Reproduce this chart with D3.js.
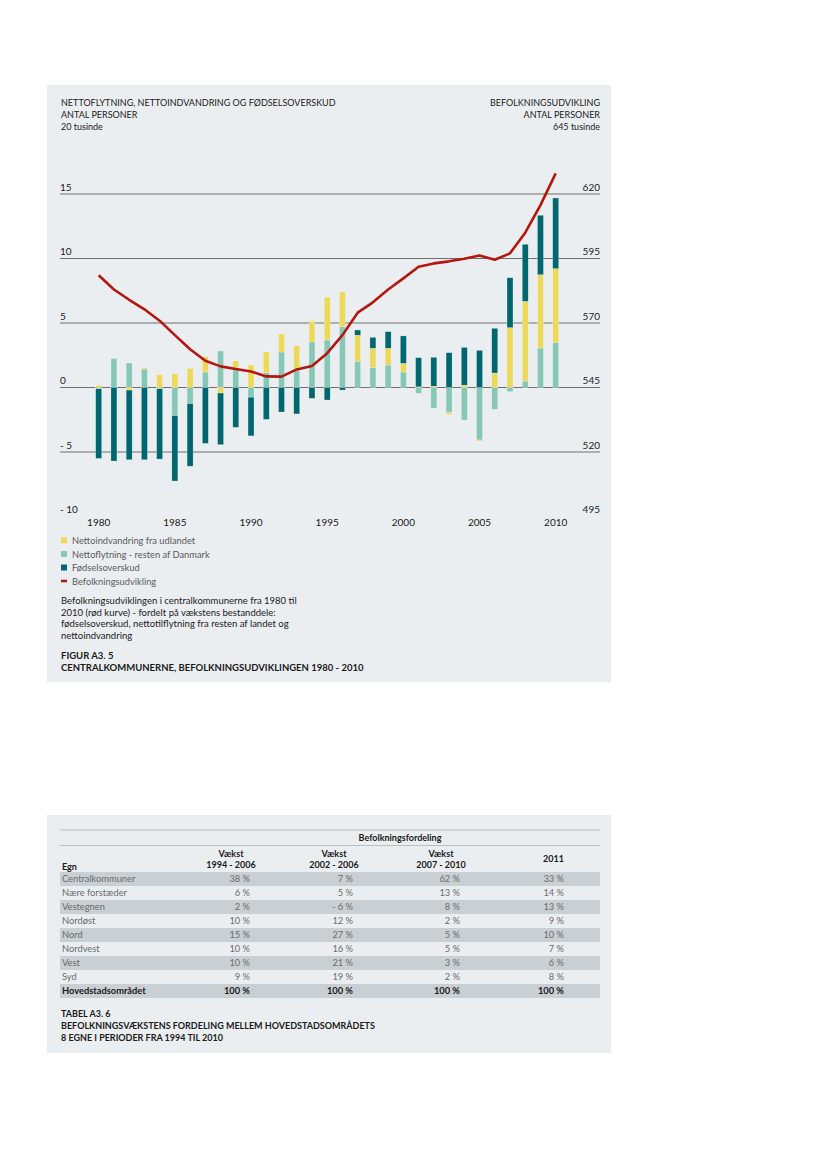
<!DOCTYPE html>
<html>
<head>
<meta charset="utf-8">
<script src="https://cdn.jsdelivr.net/npm/d3@7"></script>
<style>
  body { margin: 0; background: #fff; }
  svg text { font-family: Lato, "Open Sans", sans-serif; }
</style>
</head>
<body>
<div id="chart"></div>
<script>
// data (tusinde personer)
var years = [1980,1981,1982,1983,1984,1985,1986,1987,1988,1989,1990,1991,1992,1993,1994,1995,
             1996,1997,1998,1999,2000,2001,2002,2003,2004,2005,2006,2007,2008,2009,2010];
var nettoflytning = [-0.1,2.25,1.9,1.43,-0.1,-2.18,-1.25,1.2,2.83,1.56,-0.75,1.15,2.75,1.3,3.53,3.68,
                     4.71,2.03,1.53,1.74,1.2,-0.45,-1.6,-1.95,-2.52,-4.07,-1.69,-0.32,0.5,3.06,3.5];
var nettoindvandring = [0.15,0,-0.2,0.1,1.0,1.07,1.48,1.2,-0.43,0.5,1.74,1.6,1.4,1.94,1.62,3.32,
                        2.7,2.02,1.51,1.3,0.67,0.05,0.1,-0.15,0.18,-0.1,1.12,4.64,6.18,5.68,5.71];
var fodselsoverskud = [-5.4,-5.7,-5.4,-5.6,-5.45,-5.07,-4.85,-4.33,-4.0,-3.09,-3.0,-2.47,-1.9,-2.05,-0.84,-0.97,
                       -0.2,0.41,0.85,1.29,2.13,2.26,2.24,2.7,2.93,2.88,3.47,3.87,4.42,4.61,5.48];
var befolkning = [588.5,583,579,575.3,570.9,565.3,559.8,555.4,553.2,552.2,551.2,549.3,549.2,552,553.3,558.3,
                  565.3,574,578,583,587.3,591.8,593.1,593.9,594.9,596.2,594.5,597,605,615.7,628];

var leftTicks = [-10,-5,0,5,10,15];
var leftTickLabels = ["- 10","- 5","0","5","10","15"];
var rightTicks = [495,520,545,570,595,620];
var xTicks = [1980,1985,1990,1995,2000,2005,2010];

var seriesNames = ["Nettoindvandring fra udlandet","Nettoflytning - resten af Danmark","Fødselsoverskud","Befolkningsudvikling"];

// table
var tableRows = ["Centralkommuner","Nære forstæder","Vestegnen","Nordøst","Nord","Nordvest","Vest","Syd","Hovedstadsområdet"];
var vaekst9406 = ["38 %","6 %","2 %","10 %","15 %","10 %","10 %","9 %","100 %"];
var vaekst0206 = ["7 %","5 %","- 6 %","12 %","27 %","16 %","21 %","19 %","100 %"];
var vaekst0710 = ["62 %","13 %","8 %","2 %","5 %","5 %","3 %","2 %","100 %"];
var fordeling2011 = ["33 %","14 %","13 %","9 %","10 %","7 %","6 %","8 %","100 %"];

var width = 827, height = 1169;
var bg = "#ebeef1";
var colYellow = "#ecd85a", colLight = "#86c8b5", colDark = "#00676f", colRed = "#b5170f";

var svg = d3.select("#chart").append("svg")
    .attr("width", width)
    .attr("height", height);

// panels
svg.append("rect").attr("x", 47).attr("y", 85).attr("width", 564).attr("height", 597).attr("fill", bg);
svg.append("rect").attr("x", 47).attr("y", 815).attr("width", 564).attr("height", 238).attr("fill", bg);

var x = d3.scaleLinear().domain([1980, 2010]).range([98.7, 555.7]);
var y = d3.scaleLinear().domain([-10, 20]).range([516.5, 129.5]);
var yR = d3.scaleLinear().domain([495, 645]).range([516.5, 129.5]);
var barW = 6;

// header
var hdrL = ["NETTOFLYTNING, NETTOINDVANDRING OG FØDSELSOVERSKUD", "ANTAL PERSONER", "20 tusinde"];
var hdrR = ["BEFOLKNINGSUDVIKLING", "ANTAL PERSONER", "645 tusinde"];
hdrL.forEach(function(t, i) {
  svg.append("text").attr("x", 61).attr("y", 106 + i * 12).attr("font-size", 9).attr("fill", "#1a1a1a").text(t);
});
hdrR.forEach(function(t, i) {
  svg.append("text").attr("x", 600).attr("y", 106 + i * 12).attr("font-size", 9).attr("fill", "#1a1a1a")
    .attr("text-anchor", "end").text(t);
});

// gridlines
svg.append("g").selectAll("line")
    .data(leftTicks.filter(function(d) { return d > -10; }))
    .enter().append("line")
    .attr("x1", 60).attr("x2", 600)
    .attr("y1", function(d) { return y(d); })
    .attr("y2", function(d) { return y(d); })
    .attr("stroke", "#6f6f6f").attr("stroke-width", 1.2);

svg.append("g").selectAll("text")
    .data(leftTicks)
    .enter().append("text")
    .attr("x", 60).attr("y", function(d) { return y(d) - 3.5; })
    .attr("font-size", 10).attr("fill", "#1a1a1a")
    .text(function(d, i) { return leftTickLabels[i]; });

svg.append("g").selectAll("text")
    .data(rightTicks)
    .enter().append("text")
    .attr("x", 600).attr("y", function(d) { return yR(d) - 3.5; })
    .attr("text-anchor", "end")
    .attr("font-size", 10).attr("fill", "#1a1a1a")
    .text(function(d) { return d; });

svg.append("g").selectAll("text")
    .data(xTicks)
    .enter().append("text")
    .attr("x", function(d) { return x(d); }).attr("y", 526)
    .attr("text-anchor", "middle")
    .attr("font-size", 10).attr("fill", "#1a1a1a")
    .text(function(d) { return d; });

// stacked bars, diverging
var rows = years.map(function(yr, i) {
  return { year: yr, flyt: nettoflytning[i], indv: nettoindvandring[i], fods: fodselsoverskud[i] };
});
var keys = ["flyt", "indv", "fods"];
var color = d3.scaleOrdinal().domain(keys).range([colLight, colYellow, colDark]);

var stack = d3.stack().keys(keys).offset(d3.stackOffsetDiverging);

var layer = svg.append("g").selectAll("g")
    .data(stack(rows))
    .enter().append("g")
    .attr("fill", function(d) { return color(d.key); });

layer.selectAll("rect")
    .data(function(d) { return d; })
    .enter().append("rect")
    .attr("x", function(d) { return x(d.data.year) - barW / 2; })
    .attr("width", barW)
    .attr("y", function(d) { return y(Math.max(d[0], d[1])); })
    .attr("height", function(d) { return Math.abs(y(d[0]) - y(d[1])); })
    .attr("stroke", "#ffffff").attr("stroke-opacity", 0.5).attr("stroke-width", 0.5);

// population line
var line = d3.line()
    .x(function(d, i) { return x(years[i]); })
    .y(function(d) { return yR(d); });

svg.append("path")
    .datum(befolkning)
    .attr("d", line)
    .attr("fill", "none")
    .attr("stroke", colRed)
    .attr("stroke-width", 2.6)
    .attr("stroke-linejoin", "round");

// legend
var legCols = [colYellow, colLight, colDark, colRed];
seriesNames.forEach(function(n, i) {
  var cy = 540.5 + i * 13.5;
  if (i < 3) {
    svg.append("rect").attr("x", 61).attr("y", cy - 3).attr("width", 6).attr("height", 6).attr("fill", legCols[i]);
  } else {
    svg.append("rect").attr("x", 61).attr("y", cy - 1.3).attr("width", 6).attr("height", 2.6).attr("fill", legCols[i]);
  }
  svg.append("text").attr("x", 72).attr("y", cy + 3.5).attr("font-size", 9.3).attr("fill", "#5a5a5a").text(n);
});

var caption = ["Befolkningsudviklingen i centralkommunerne fra 1980 til",
               "2010 (rød kurve) - fordelt på vækstens bestanddele:",
               "fødselsoverskud, nettotilflytning fra resten af landet og",
               "nettoindvandring"];
caption.forEach(function(t, i) {
  svg.append("text").attr("x", 61).attr("y", 604 + i * 11.7).attr("font-size", 9.5).attr("fill", "#1a1a1a").text(t);
});
svg.append("text").attr("x", 61).attr("y", 659).attr("font-size", 9.5).attr("font-weight", "bold").attr("fill", "#1a1a1a").text("FIGUR A3. 5");
svg.append("text").attr("x", 61).attr("y", 671).attr("font-size", 9.5).attr("font-weight", "bold").attr("fill", "#1a1a1a")
  .text("CENTRALKOMMUNERNE, BEFOLKNINGSUDVIKLINGEN 1980 - 2010");

// table
var tbl = svg.append("g");
var colRight = [250, 353, 460, 564];
var rowY0 = 879, rowH = 14;

tbl.append("line").attr("x1", 60).attr("x2", 600).attr("y1", 830).attr("y2", 830).attr("stroke", "#b9bec2").attr("stroke-width", 1);
tbl.append("line").attr("x1", 60).attr("x2", 600).attr("y1", 845.5).attr("y2", 845.5).attr("stroke", "#b9bec2").attr("stroke-width", 1);
tbl.append("text").attr("x", 400).attr("y", 840.5).attr("text-anchor", "middle").attr("font-size", 9).attr("font-weight", "bold")
  .attr("fill", "#1a1a1a").text("Befolkningsfordeling");

var heads = [["Vækst", "1994 - 2006"], ["Vækst", "2002 - 2006"], ["Vækst", "2007 - 2010"]];
heads.forEach(function(h, i) {
  var cx = colRight[i] - 19;
  tbl.append("text").attr("x", cx).attr("y", 856.5).attr("text-anchor", "middle").attr("font-size", 9).attr("font-weight", "bold").attr("fill", "#1a1a1a").text(h[0]);
  tbl.append("text").attr("x", cx).attr("y", 868).attr("text-anchor", "middle").attr("font-size", 9).attr("font-weight", "bold").attr("fill", "#1a1a1a").text(h[1]);
});
tbl.append("text").attr("x", colRight[3]).attr("y", 862).attr("text-anchor", "end").attr("font-size", 9).attr("font-weight", "bold").attr("fill", "#1a1a1a").text("2011");
tbl.append("text").attr("x", 62).attr("y", 869.5).attr("font-size", 9).attr("font-weight", "bold").attr("fill", "#1a1a1a").text("Egn");

var cols = [vaekst9406, vaekst0206, vaekst0710, fordeling2011];
tableRows.forEach(function(r, i) {
  var cy = rowY0 + i * rowH;
  var last = i === tableRows.length - 1;
  if (i % 2 === 0) {
    tbl.append("rect").attr("x", 60).attr("y", cy - rowH / 2).attr("width", 540).attr("height", rowH).attr("fill", "#c9cfd3");
  }
  tbl.append("text").attr("x", 62).attr("y", cy + 3.2).attr("font-size", 9.3)
    .attr("font-weight", last ? "bold" : "normal").attr("fill", last ? "#1a1a1a" : "#6a6a6a").text(r);
  cols.forEach(function(c, j) {
    tbl.append("text").attr("x", colRight[j]).attr("y", cy + 3.2).attr("text-anchor", "end").attr("font-size", 9.3)
      .attr("font-weight", last ? "bold" : "normal").attr("fill", last ? "#1a1a1a" : "#6a6a6a").text(c[i]);
  });
});

tbl.append("text").attr("x", 61).attr("y", 1017).attr("font-size", 9).attr("font-weight", "bold").attr("fill", "#1a1a1a").text("TABEL A3. 6");
tbl.append("text").attr("x", 61).attr("y", 1029).attr("font-size", 9).attr("font-weight", "bold").attr("fill", "#1a1a1a")
  .text("BEFOLKNINGSVÆKSTENS FORDELING MELLEM HOVEDSTADSOMRÅDETS");
tbl.append("text").attr("x", 61).attr("y", 1041).attr("font-size", 9).attr("font-weight", "bold").attr("fill", "#1a1a1a")
  .text("8 EGNE I PERIODER FRA 1994 TIL 2010");
</script>
</body>
</html>
